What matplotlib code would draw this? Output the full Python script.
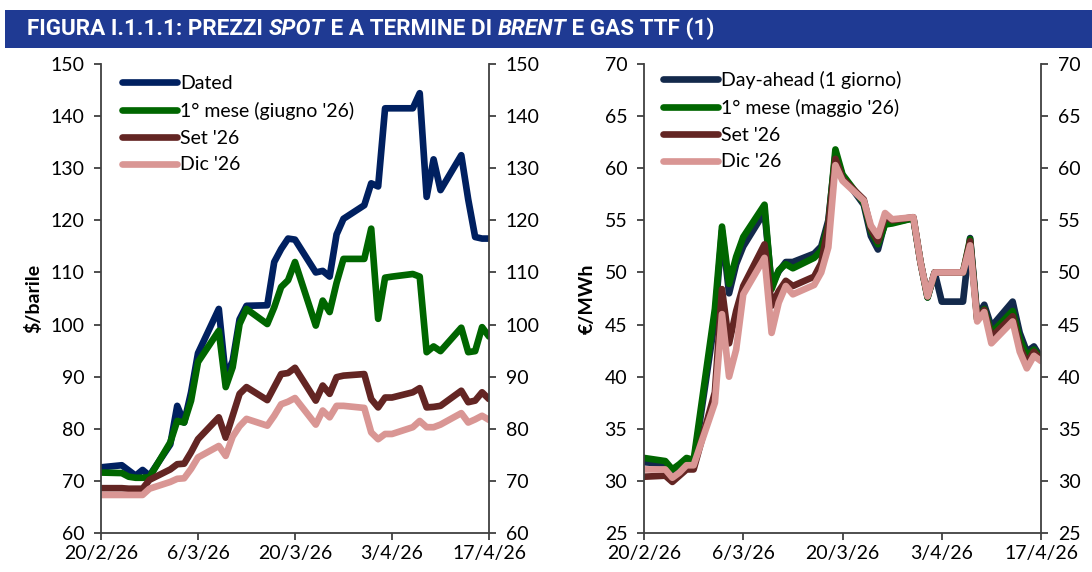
import pandas as pd
import matplotlib
matplotlib.use('Agg')
import matplotlib.pyplot as plt
from matplotlib.patches import Rectangle

# business days 20/2/26 - 17/4/26
dates = pd.bdate_range('2026-02-20', '2026-04-17')

# Brent ($/barile)
brent_dated = [72.6, 73.0, 72.0, 71.0, 72.1, 71.0,
               77.0, 84.4, 81.2, 87.0, 94.5,
               103.0, 90.0, 93.0, 101.0, 103.6,
               103.7, 112.0, 114.5, 116.5, 116.3,
               110.0, 110.3, 109.2, 117.3, 120.3,
               122.9, 127.1, 126.5, 141.5, 141.5,
               141.5, 144.4, 124.5, 131.7, 125.8,
               132.5, 124.0, 116.8, 116.5, 116.5]
brent_m1 = [71.6, 71.5, 70.8, 70.6, 70.6, 70.7,
            77.4, 81.5, 81.2, 85.4, 92.8,
            98.8, 88.0, 91.8, 100.1, 103.0,
            100.1, 103.3, 107.2, 108.5, 112.0,
            99.8, 104.6, 102.4, 108.0, 112.6,
            112.6, 118.4, 101.1, 109.0, 109.2,
            109.7, 109.2, 94.7, 95.8, 94.9,
            99.4, 94.7, 94.9, 99.5, 97.7]
brent_set = [68.6, 68.6, 68.5, 68.5, 68.5, 70.2,
             72.2, 73.2, 73.3, 75.5, 78.0,
             82.2, 78.3, 82.5, 86.7, 88.0,
             85.5, 88.0, 90.5, 90.7, 91.7,
             85.4, 88.3, 86.7, 89.9, 90.2,
             90.5, 85.7, 84.1, 86.0, 86.0,
             87.0, 87.8, 84.1, 84.2, 84.4,
             87.3, 85.1, 85.4, 87.0, 85.7]
brent_dic = [67.3, 67.3, 67.3, 67.3, 67.3, 68.5,
             69.8, 70.4, 70.5, 72.3, 74.5,
             76.7, 74.8, 78.5, 80.5, 81.9,
             80.6, 82.5, 84.7, 85.2, 85.9,
             80.8, 83.5, 82.2, 84.4, 84.4,
             84.0, 79.3, 78.0, 79.0, 79.0,
             80.3, 81.5, 80.3, 80.3, 80.8,
             83.0, 81.2, 81.8, 82.5, 81.7]

# TTF (€/MWh)
ttf_da = [31.8, 31.6, 30.8, 31.3, 31.8, 31.6,
          45.5, 54.0, 48.0, 50.8, 52.5,
          55.8, 48.8, 50.1, 51.0, 51.0,
          51.8, 52.5, 55.0, 61.3, 59.3,
          56.5, 53.5, 52.2, 54.8, 54.8,
          55.2, 51.0, 47.6, 50.0, 47.2,
          47.2, 53.3, 45.8, 46.9, 44.8,
          47.2, 44.2, 42.4, 42.9, 41.8]
ttf_m1 = [32.2, 31.9, 31.1, 31.6, 32.2, 32.0,
          46.5, 54.4, 48.9, 51.5, 53.4,
          56.5, 48.4, 50.2, 50.8, 50.4,
          51.4, 52.1, 54.6, 61.8, 59.4,
          56.7, 54.0, 52.7, 54.6, 54.7,
          55.2, 51.0, 47.6, 50.0, 50.0,
          50.0, 53.2, 45.5, 46.5, 44.2,
          46.3, 43.6, 42.0, 42.6, 41.7]
ttf_set = [30.4, 30.5, 29.9, 30.5, 31.1, 31.1,
           38.5, 48.4, 43.2, 46.3, 48.7,
           52.7, 46.8, 48.2, 49.2, 48.7,
           49.6, 50.9, 54.5, 60.9, 59.0,
           57.0, 54.2, 53.0, 55.4, 55.0,
           55.3, 51.0, 47.7, 50.0, 50.0,
           50.0, 53.0, 45.5, 46.4, 43.8,
           45.8, 42.9, 41.3, 42.4, 41.6]
ttf_dic = [31.1, 31.1, 30.3, 30.8, 31.5, 31.5,
           37.5, 46.0, 40.0, 42.6, 47.9,
           51.4, 44.2, 47.1, 48.7, 47.9,
           48.8, 50.0, 52.4, 60.3, 58.8,
           56.9, 54.5, 53.5, 55.7, 55.1,
           55.3, 51.0, 47.7, 50.0, 50.0,
           50.0, 52.6, 45.3, 46.2, 43.2,
           45.3, 42.4, 40.8, 42.0, 41.5]

brent_labels = ['Dated', "1° mese (giugno '26)", "Set '26", "Dic '26"]
ttf_labels = ['Day-ahead (1 giorno)', "1° mese (maggio '26)", "Set '26", "Dic '26"]
xticks = pd.to_datetime(['2026-02-20', '2026-03-06', '2026-03-20', '2026-04-03', '2026-04-17'])

plt.rcParams['font.family'] = ['Lato', 'DejaVu Sans']
FS = 14
AXC = '#404040'

fig = plt.figure(figsize=(10.92, 5.72), dpi=100)

# title bar
fig.patches.append(Rectangle((5 / 1092, 1 - 48 / 572), 1, 38 / 572, transform=fig.transFigure,
                             facecolor='#1f3a93', edgecolor='none', zorder=0))
parts = [('FIGURA I.1.1.1: PREZZI ', 'normal'), ('SPOT', 'italic'), (' E A TERMINE DI ', 'normal'),
         ('BRENT', 'italic'), (' E GAS TTF (1)', 'normal')]
renderer = fig.canvas.get_renderer()
xpos = 27 / 1092
for txt, st in parts:
    t = fig.text(xpos, 1 - 29 / 572, txt, color='white', fontsize=16.2, fontweight='bold', style=st,
                 va='center', ha='left', family=['Roboto', 'DejaVu Sans'])
    xpos += t.get_window_extent(renderer).width / fig.bbox.width


def draw_panel(rect, series, labels, colors, ylim, yticks, ylabel, leg_anchor):
    ax = fig.add_axes(rect)
    for vals, lab, col in zip(series, labels, colors):
        ax.plot(dates, vals, color=col, lw=4.8, label=lab, solid_capstyle='round', solid_joinstyle='round')
    ax.set_xlim(xticks[0], xticks[-1])
    ax.set_ylim(*ylim)
    ax.set_yticks(yticks)
    ax.set_xticks(xticks)
    ax.set_xticklabels([f'{d.day}/{d.month}/{d.strftime("%y")}' for d in xticks])
    ax.spines['top'].set_visible(False)
    for s in ['left', 'right', 'bottom']:
        ax.spines[s].set_color(AXC)
        ax.spines[s].set_linewidth(1.3)
    ax.tick_params(axis='y', which='both', left=True, right=True, labelleft=True, labelright=True,
                   direction='out', length=5, width=1.3, color=AXC, labelsize=FS, pad=7)
    ax.tick_params(axis='x', direction='out', length=5, width=1.3, color=AXC, labelsize=FS, pad=4)
    ax.set_ylabel(ylabel, fontsize=FS, fontweight='bold', labelpad=6)
    ax.legend(loc='upper left', bbox_to_anchor=leg_anchor, frameon=False, fontsize=FS,
              handlelength=2.85, handletextpad=0.15, labelspacing=0.5, borderpad=0, borderaxespad=0)
    return ax


draw_panel([101 / 1092, 39 / 572, 388 / 1092, 469 / 572],
           [brent_dated, brent_m1, brent_set, brent_dic], brent_labels,
           ['#002060', '#006600', '#632523', '#d99694'],
           (60, 150), range(60, 151, 10), '$/barile', (0.054, 0.976))

draw_panel([644 / 1092, 39 / 572, 397 / 1092, 469 / 572],
           [ttf_da, ttf_m1, ttf_set, ttf_dic], ttf_labels,
           ['#13294b', '#006600', '#632523', '#d99694'],
           (25, 70), range(25, 71, 5), '€/MWh', (0.048, 0.985))

fig.savefig('out.png', dpi=100)
